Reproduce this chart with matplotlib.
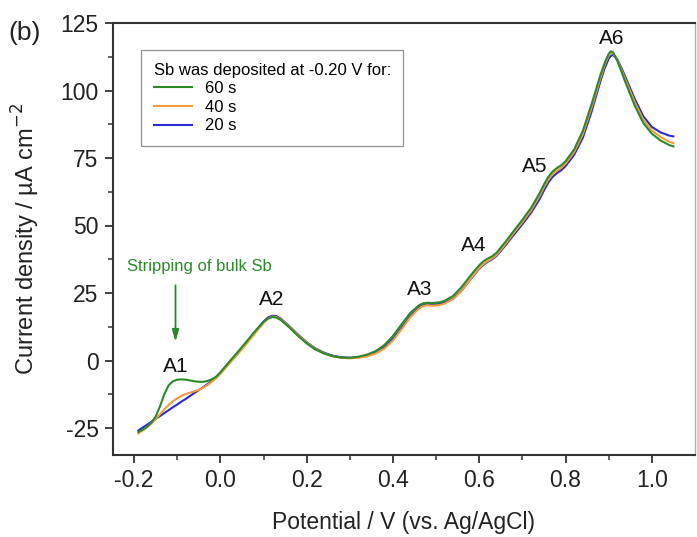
import matplotlib
matplotlib.use("Agg")
import matplotlib.pyplot as plt

plt.rcParams['font.family'] = ['Liberation Sans', 'DejaVu Sans']

# Potential sweep (V vs. Ag/AgCl)
potential = [-0.19, -0.18, -0.17, -0.16, -0.15, -0.14, -0.13, -0.12, -0.11, -0.10,
             -0.09, -0.08, -0.07, -0.06, -0.05, -0.04, -0.03, -0.02, -0.01, 0.00,
             0.02, 0.04, 0.06, 0.08, 0.10,
             0.11, 0.12, 0.13, 0.14,
             0.16, 0.18, 0.20, 0.22, 0.24, 0.26, 0.28, 0.30, 0.32, 0.34,
             0.36, 0.38, 0.40, 0.42, 0.44,
             0.46,
             0.47, 0.48, 0.49, 0.50, 0.51, 0.52,
             0.54, 0.56, 0.58, 0.60,
             0.61, 0.62, 0.63, 0.64,
             0.66, 0.68, 0.70, 0.72, 0.74,
             0.75, 0.76, 0.77, 0.78, 0.79, 0.80,
             0.82, 0.84, 0.86,
             0.87, 0.88, 0.89, 0.90,
             0.905, 0.91,
             0.92, 0.93, 0.94,
             0.96, 0.98, 1.00, 1.02, 1.04, 1.05]

# Current density (uA cm^-2) for each deposition time
j_60s = [-26.5, -25.6, -24.6, -23.0, -20.8, -17.0, -12.5, -9.2, -7.7, -7.1,
         -7.0, -7.1, -7.4, -7.7, -7.9, -7.9, -7.6, -7.0, -6.0, -4.4,
         -0.6, 3.1, 6.9, 10.8, 14.3,
         15.5, 16.1, 15.9, 15.0,
         12.2, 9.1, 6.3, 4.1, 2.6, 1.6, 1.1, 1.0, 1.4, 2.2,
         3.5, 5.7, 9.1, 13.4, 17.6,
         20.4,
         21.2, 21.4, 21.3, 21.4, 21.6, 22.1,
         24.0, 27.4, 31.5, 35.3,
         36.8, 37.8, 38.6, 39.9,
         43.8, 48.0, 52.1, 56.5, 62.0,
         65.2, 68.0, 70.0, 71.3, 72.3, 73.8,
         78.2, 85.0, 94.8,
         100.0, 105.3, 110.0, 113.6,
         114.5, 114.2,
         111.0, 106.8, 102.5,
         94.5, 88.0, 84.0, 81.5, 79.8, 79.3]

j_40s = [-27.0, -25.9, -24.7, -23.3, -21.7, -19.9, -18.1, -16.5, -15.1, -14.0,
         -13.1, -12.4, -11.9, -11.4, -10.9, -10.1, -9.1, -7.9, -6.5, -4.9,
         -1.3, 2.3, 6.1, 10.0, 13.9,
         15.4, 16.3, 16.1, 15.2,
         12.5, 9.4, 6.6, 4.3, 2.7, 1.6, 1.0, 0.8, 1.0, 1.5,
         2.6, 4.4, 7.4, 11.6, 16.0,
         19.2,
         20.2, 20.5, 20.3, 20.4, 20.6, 21.1,
         22.8, 26.0, 30.2, 34.2,
         35.8, 36.9, 37.8, 39.0,
         43.0, 47.2, 51.3, 55.6, 61.0,
         64.2, 67.0, 69.0, 70.4, 71.4, 72.9,
         77.2, 83.8, 93.5,
         98.8, 104.2, 109.2, 113.0,
         113.9, 113.8,
         111.3, 107.5, 103.5,
         95.8, 89.2, 85.2, 82.8, 81.0, 80.5]

j_20s = [-25.9, -24.8, -23.8, -22.7, -21.6, -20.6, -19.5, -18.4, -17.3, -16.3,
         -15.2, -14.2, -13.1, -12.0, -11.0, -9.9, -8.8, -7.6, -6.2, -4.5,
         -0.9, 2.7, 6.5, 10.5, 14.4,
         15.9, 16.6, 16.4, 15.5,
         12.7, 9.6, 6.8, 4.5, 2.9, 1.8, 1.2, 1.0, 1.2, 1.8,
         3.0, 4.9, 8.0, 12.2, 16.5,
         19.6,
         20.5, 20.9, 20.8, 20.8, 21.0, 21.4,
         23.0, 26.1, 30.1, 34.0,
         35.5, 36.6, 37.5, 38.7,
         42.5, 46.5, 50.5, 54.7, 59.8,
         63.0, 65.9, 68.0, 69.4, 70.5, 72.0,
         76.2, 82.5, 92.0,
         97.5, 103.0, 108.0, 111.8,
         112.8, 113.2,
         111.5, 108.2, 104.5,
         97.0, 90.5, 86.5, 84.5, 83.3, 83.0]

series_labels = ["60 s", "40 s", "20 s"]
series_colors = ["#2a8a2a", "#f59a3c", "#2b2bd6"]

peak_labels = ["A1", "A2", "A3", "A4", "A5", "A6"]
peak_x = [-0.103, 0.118, 0.462, 0.587, 0.728, 0.908]
peak_y = [-2.2, 22.6, 26.3, 42.6, 71.9, 119.3]

fig = plt.figure(figsize=(6.97, 5.37), dpi=100)
ax = fig.add_axes([112.5 / 697, 1 - 455 / 537, (695 - 112.5) / 697, (455 - 23) / 537])

# draw so that 60 s ends up on top
lines = {}
for lab, col, y in zip(series_labels[::-1], series_colors[::-1], [j_20s, j_40s, j_60s]):
    lines[lab], = ax.plot(potential, y, color=col, lw=1.5, label=lab,
                          solid_joinstyle="round")

ax.set_xlim(-0.25, 1.1)
ax.set_ylim(-35, 125)
ax.set_xticks([-0.2, 0.0, 0.2, 0.4, 0.6, 0.8, 1.0])
ax.set_xticklabels(["-0.2", "0.0", "0.2", "0.4", "0.6", "0.8", "1.0"])
ax.set_xticks([-0.1, 0.1, 0.3, 0.5, 0.7, 0.9], minor=True)
ax.set_yticks([-25, 0, 25, 50, 75, 100, 125])
ax.set_yticklabels(["-25", "0", "25", "50", "75", "100", "125"])
ax.set_yticks([-12.5, 12.5, 37.5, 62.5, 87.5, 112.5], minor=True)

ax.tick_params(which="major", direction="out", length=6, width=1.3, colors="#333333",
               labelsize=16.5, pad=4, labelcolor="#222222")
ax.tick_params(which="minor", direction="out", length=3.5, width=1.1, colors="#333333")
ax.tick_params(top=False, right=False)

for side in ["left", "bottom", "top"]:
    ax.spines[side].set_color("#333333")
    ax.spines[side].set_linewidth(1.5)
ax.spines["right"].set_color("#b0b0b0")
ax.spines["right"].set_linewidth(1.0)

ax.set_xlabel("Potential / V (vs. Ag/AgCl)", fontsize=16.5, color="#222222", labelpad=14)
ax.set_ylabel("Current density / \u00b5A cm$^{-2}$", fontsize=17, color="#222222", labelpad=13)

leg = ax.legend(handles=[lines[l] for l in series_labels], labels=series_labels,
                title="Sb was deposited at -0.20 V for:", loc="upper left",
                bbox_to_anchor=((141 - 112.5) / (695 - 112.5), 1 - (50 - 23) / 432),
                fontsize=12, title_fontsize=12, frameon=True, fancybox=False,
                edgecolor="#777777", handlelength=2.3, handletextpad=0.8,
                labelspacing=0.22, borderpad=0.75, borderaxespad=0.0)
leg.get_frame().set_linewidth(0.9)
leg._legend_box.align = "left"

for lab, x, y in zip(peak_labels, peak_x, peak_y):
    ax.text(x, y, lab, fontsize=15, ha="center", va="center", color="#111111")

ax.text(-0.048, 35.0, "Stripping of bulk Sb", fontsize=12, ha="center", va="center",
        color="#2a8a2a")
ax.annotate("", xy=(-0.104, 5.9), xytext=(-0.104, 28.9),
            arrowprops=dict(arrowstyle="-|>,head_length=0.7,head_width=0.2",
                            color="#2a8a2a", lw=1.3))

fig.text(8 / 697, 1 - 33 / 537, "(b)", fontsize=19, ha="left", va="center", color="#222222")

fig.savefig("out.png", dpi=100)
